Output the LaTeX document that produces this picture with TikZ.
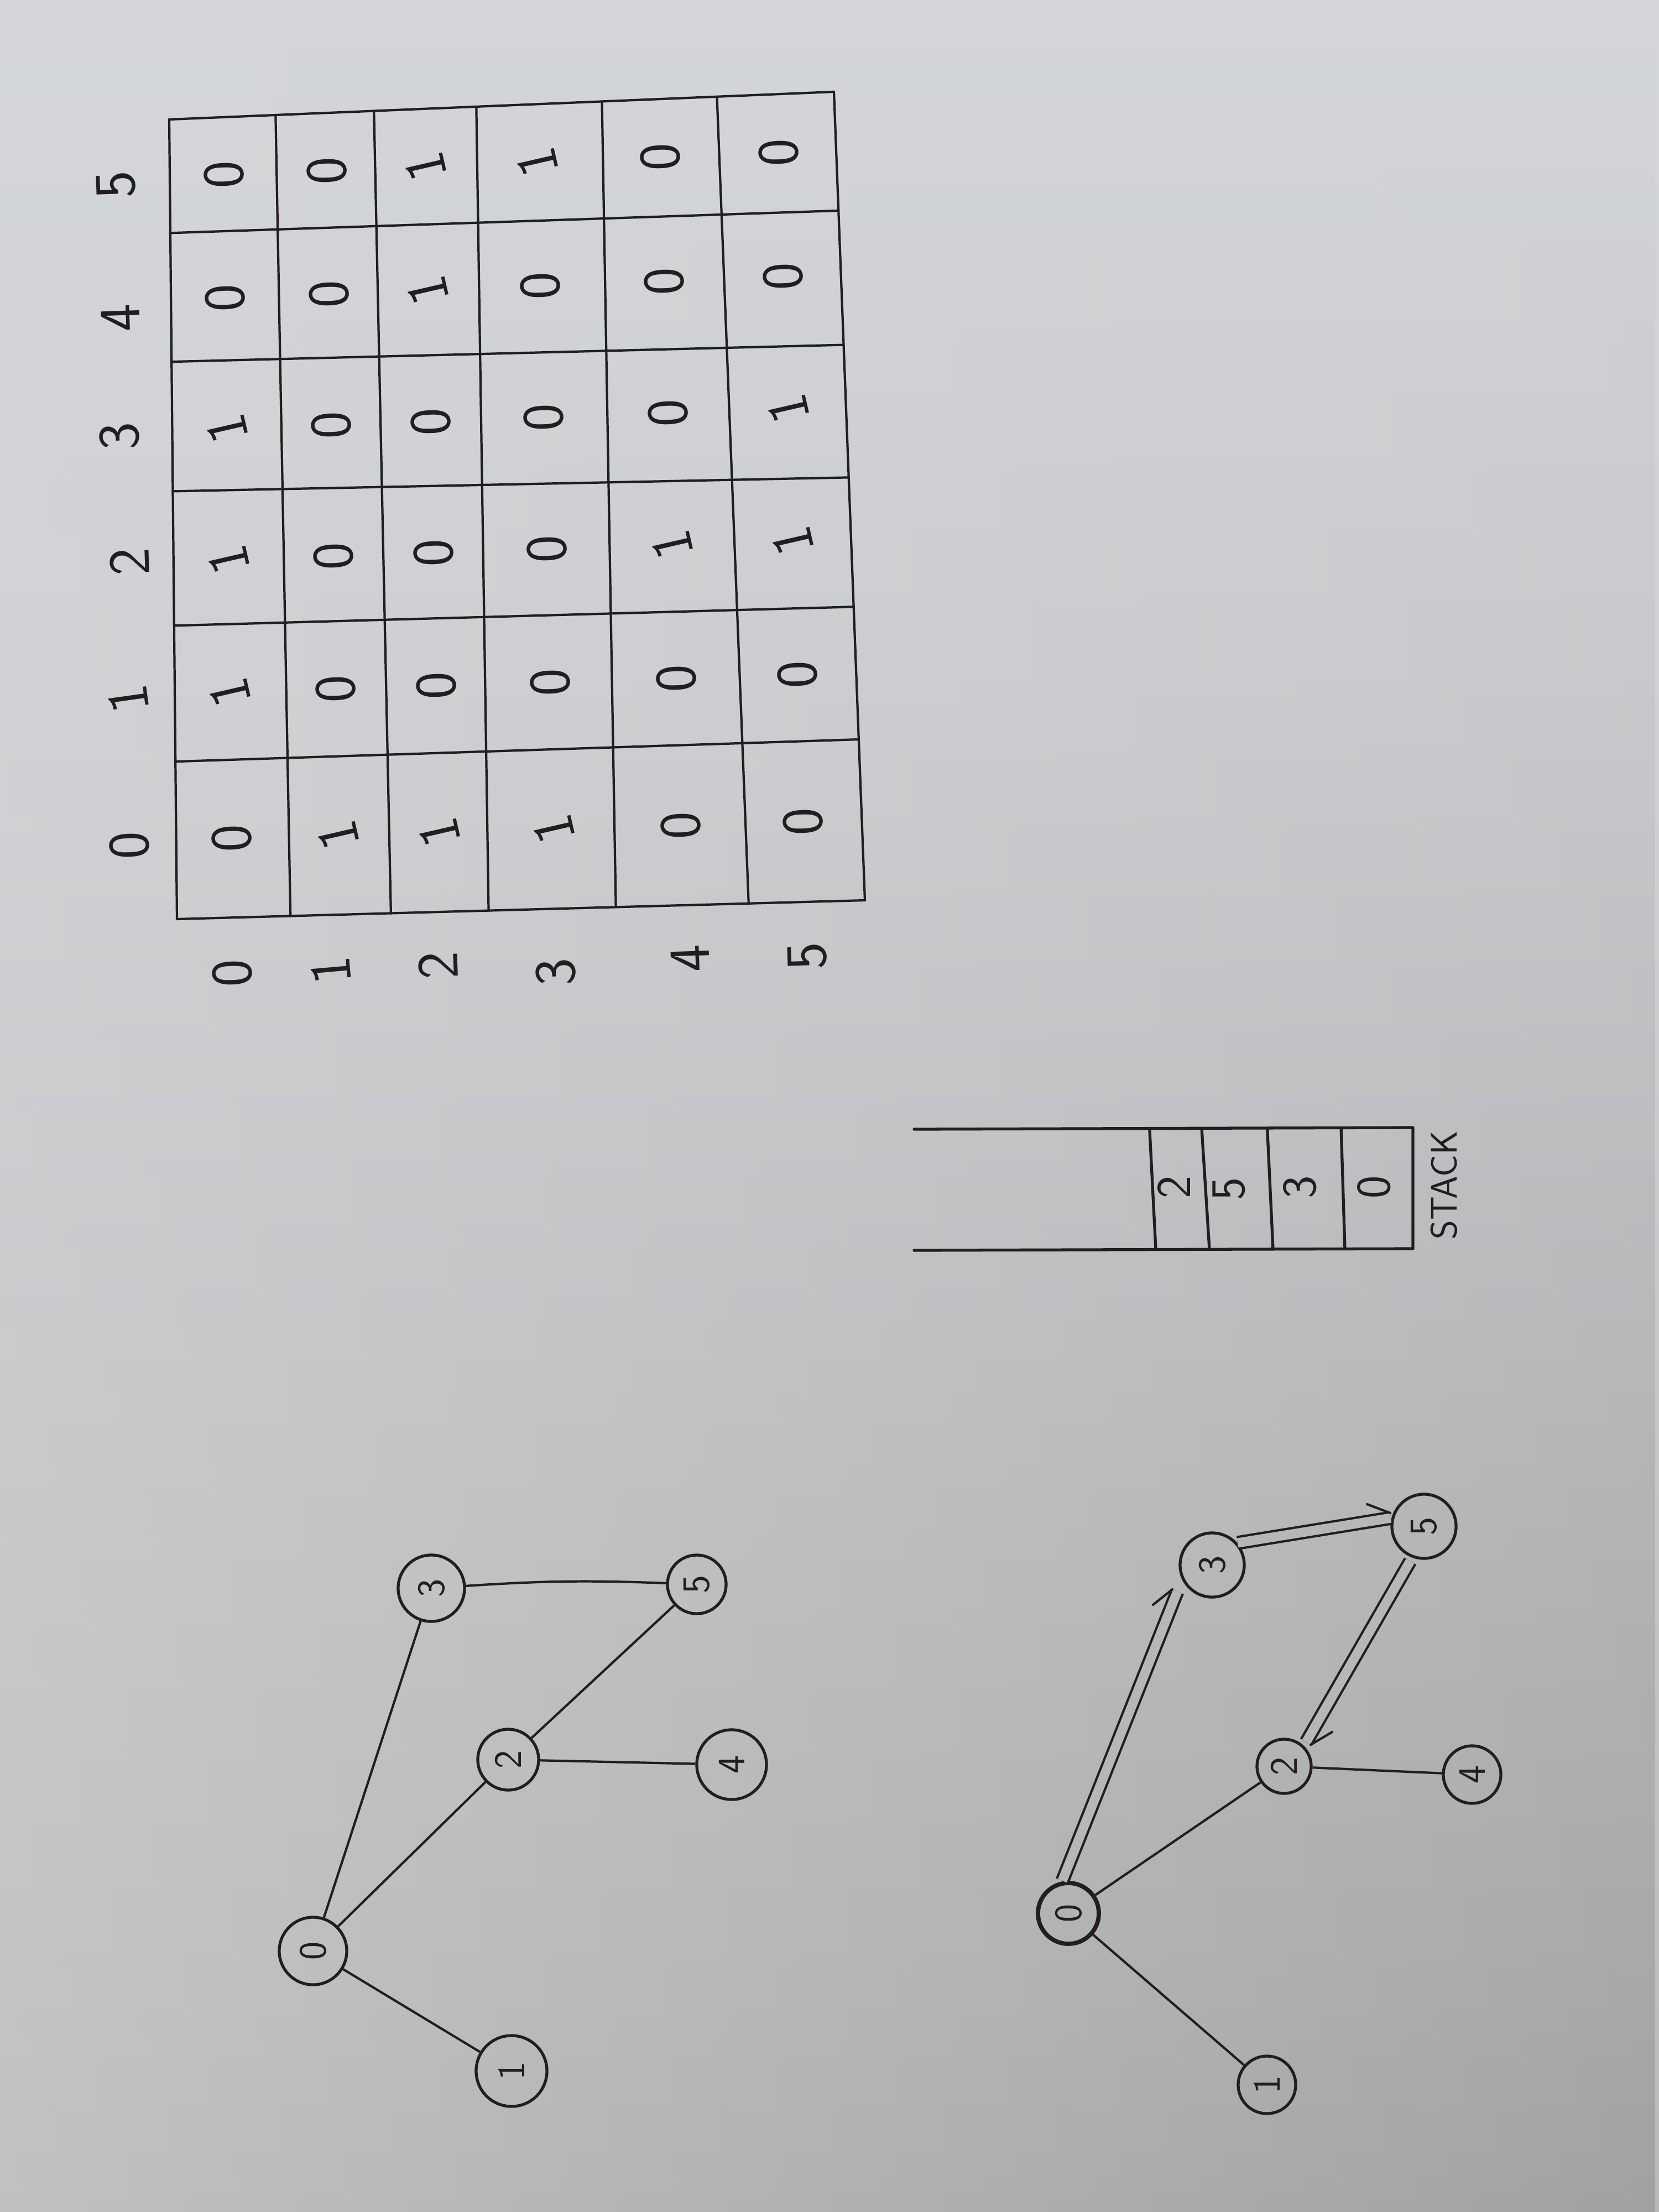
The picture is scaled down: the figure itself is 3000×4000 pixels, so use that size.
\documentclass[tikz,border=0pt]{standalone}
\usetikzlibrary{calc,fadings}
\definecolor{ink}{RGB}{32,30,32}
\definecolor{pA}{RGB}{220,223,227}
\definecolor{pB}{RGB}{207,209,212}
\definecolor{pC}{RGB}{188,189,190}
\definecolor{pD}{RGB}{160,160,158}
\definecolor{dbl}{RGB}{182,183,183}
\pgfdeclareverticalshading{paper}{100bp}{color(0bp)=(pD); color(30bp)=(pC); color(60bp)=(pB); color(100bp)=(pA)}
\begin{document}
\begin{tikzpicture}[x=0.01cm,y=-0.01cm,
  grid/.style={draw=ink, line width=1.2pt, line cap=round},
  cell/.style={font=\sffamily\fontsize{30}{30}\selectfont, text=ink, inner sep=0pt},
  stk/.style={font=\sffamily\fontsize{25}{25}\selectfont, text=ink, rotate=90, inner sep=0pt},
  lbl/.style={font=\sffamily\fontsize{19}{19}\selectfont, text=ink, rotate=90, inner sep=0pt},
  vtx/.style={circle, draw=ink, line width=1.5pt, inner sep=0pt, text=ink,
    font=\sffamily\fontsize{20}{20}\selectfont, rotate=90},
  edge/.style={draw=ink, line width=1.2pt},
  dedge/.style={draw=ink, line width=1.2pt, double=dbl, double distance=0.17cm},
  barb/.style={draw=ink, line width=1.2pt, line cap=round},
  stackline/.style={draw=ink, line width=1.5pt, line cap=round, line join=round}]
\useasboundingbox (0,0) rectangle (3000,4000);
\shade[shading=paper] (0,0) rectangle (3000,4000);
\shade[left color=white, right color=black, opacity=0.12, path fading=north] (0,0) rectangle (3000,4000);

% ---------------- matrix ----------------
\coordinate (TL) at (306,216);
\coordinate (TR) at (1508,166);
\coordinate (BL) at (320,1662);
\coordinate (BR) at (1564,1628);
\foreach \a/\b in {0/0,0.160/0.165,0.308/0.311,0.462/0.453,0.651/0.638,0.824/0.831,1/1}
  \draw[grid] ($(TL)!\a!(TR)$) -- ($(BL)!\b!(BR)$);
\foreach \a/\b in {0/0,0.142/0.147,0.303/0.313,0.465/0.477,0.633/0.637,0.803/0.801,1/1}
  \draw[grid] ($(TL)!\a!(BL)$) -- ($(TR)!\b!(BR)$);

\foreach \rowvals [count=\r from 0] in {{0,0,1,1,0,0},{0,0,1,0,0,0},{1,0,0,0,0,1},{1,0,0,0,1,1},{1,0,0,0,0,0},{0,1,1,1,0,0}}{
  \foreach \val [count=\c from 0] in \rowvals {
    \pgfmathsetmacro{\uu}{{0.081,0.236,0.3835,0.551,0.736,0.914}[\c]}
    \pgfmathsetmacro{\vv}{{0.072,0.226,0.3895,0.553,0.7185,0.901}[\r]}
    \pgfmathsetmacro{\ang}{\val==1 ? 103 : 92}
    \coordinate (L) at ($(TL)!\vv!(BL)$);
    \coordinate (R) at ($(TR)!\vv!(BR)$);
    \node[cell, rotate=\ang] (m-\r-\c) at ($(L)!\uu!(R)$) {\val};
  }
}

% left headers
\node[cell, rotate=92] (h5) at (210,334) {5};
\node[cell, rotate=92] (h4) at (218,575) {4};
\node[cell, rotate=92] (h3) at (216,789) {3};
\node[cell, rotate=92] (h2) at (234,1016) {2};
\node[cell, rotate=98] (h1) at (232,1264) {1};
\node[cell, rotate=92] (h0) at (234,1529) {0};
% bottom headers
\node[cell, rotate=92] (g0) at (420,1760) {0};
\node[cell, rotate=95] (g1) at (598,1755) {1};
\node[cell, rotate=92] (g2) at (792,1746) {2};
\node[cell, rotate=92] (g3) at (1005,1758) {3};
\node[cell, rotate=92] (g4) at (1248,1733) {4};
\node[cell, rotate=92] (g5) at (1460,1729) {5};

% ---------------- stack ----------------
\coordinate (S1) at (1653,2042);
\coordinate (S2) at (2555,2039);
\coordinate (S3) at (2555,2258);
\coordinate (S4) at (1653,2261);
\draw[stackline] (S1) -- (S2) -- (S3) -- (S4);
\foreach \a/\b in {0.472/0.4845,0.5765/0.592,0.708/0.7195,0.856/0.8636}
  \draw[stackline] ($(S1)!\a!(S2)$) -- ($(S4)!\b!(S3)$);
\node[stk] (s2) at (2123,2147) {2};
\node[stk] (s5) at (2222,2150) {5};
\node[stk] (s3) at (2351,2147) {3};
\node[stk] (s0) at (2485,2147) {0};
\node[lbl] (stacklbl) at (2611,2143) {STACK};

% ---------------- graph 1 ----------------
\node[vtx, minimum size=1.22cm] (A0) at (566,3528) {0};
\node[vtx, minimum size=1.28cm] (A1) at (925,3745) {1};
\node[vtx, minimum size=1.10cm] (A2) at (919,3182) {2};
\node[vtx, minimum size=1.20cm] (A3) at (780,2872) {3};
\node[vtx, minimum size=1.26cm] (A4) at (1323,3191) {4};
\node[vtx, minimum size=1.06cm] (A5) at (1260,2865) {5};
\draw[edge] (A0) -- (A3);
\draw[edge] (A0) -- (A2);
\draw[edge] (A0) -- (A1);
\draw[edge] (A2) -- (A5);
\draw[edge] (A2) -- (A4);
\draw[edge] (A3) to[bend left=3] (A5);

% ---------------- graph 2 ----------------
\node[vtx, minimum size=1.10cm, line width=2.2pt] (B0) at (1932,3460) {0};
\node[vtx, minimum size=1.04cm] (B1) at (2291,3770) {1};
\node[vtx, minimum size=0.98cm] (B2) at (2322,3194) {2};
\node[vtx, minimum size=1.16cm] (B3) at (2192,2830) {3};
\node[vtx, minimum size=1.04cm] (B4) at (2662,3209) {4};
\node[vtx, minimum size=1.16cm] (B5) at (2575,2760) {5};
\draw[dedge] ($(B0)+(-11,-59)$) -- ($(B3)+(-63,48)$);
\draw[dedge] ($(B3)+(46,-40)$) -- ($(B5)+(-60,-15)$);
\draw[dedge] ($(B5)+(-25,63)$) -- ($(B2)+(40,-44)$);
\draw[edge] (B0) -- (B2);
\draw[edge] (B2) -- (B4);
\draw[edge] (B0) -- (B1);
% arrow barbs (half heads on the outer stroke)
\coordinate (t3) at (2120,2874);
\coordinate (b3) at (2085,2902);
\coordinate (t5) at (2514,2736);
\coordinate (b5) at (2472,2720);
\coordinate (t2) at (2370,3155);
\coordinate (b2) at (2409,3132);
\draw[barb] (b3) -- (t3);
\draw[barb] (b5) -- (t5);
\draw[barb] (b2) -- (t2);
\end{tikzpicture}
\end{document}
